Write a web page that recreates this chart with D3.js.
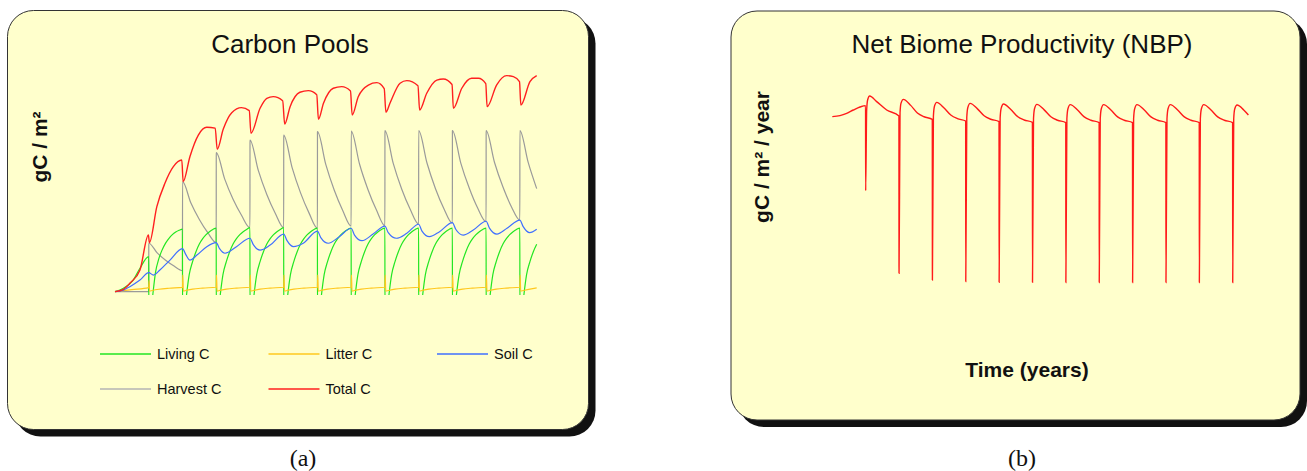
<!DOCTYPE html>
<html>
<head>
<meta charset="utf-8">
<script src="https://cdn.jsdelivr.net/npm/d3@7"></script>
<style>
  body { margin: 0; background: #fff; }
  text { font-family: "Liberation Sans", Arial, sans-serif; fill: #111; }
</style>
</head>
<body>
<svg id="chart" width="1307" height="471"></svg>
<script>
// carbon pools, gC/m2: [year, value]
let livingC = [
  [0, 0], [0.25, 17], [0.54, 58], [0.74, 117], [1.0, 175],
  [1.002, -80], [1.08, -80], [1.12, -17], [1.2, 95], [1.3, 165], [1.4, 210], [1.5, 243], [1.6, 267], [1.7, 285], [1.8, 298], [1.9, 307], [2.0, 313],
  [2.002, -80], [2.08, -80], [2.12, -17], [2.2, 85], [2.3, 150], [2.4, 200], [2.5, 238], [2.6, 265], [2.7, 285], [2.8, 300], [2.9, 311], [3.0, 318],
  [3.002, -80], [3.08, -80], [3.12, -17], [3.2, 85], [3.3, 150], [3.4, 200], [3.5, 238], [3.6, 265], [3.7, 285], [3.8, 300], [3.9, 311], [4.0, 320],
  [4.002, -80], [4.08, -80], [4.12, -17], [4.2, 85], [4.3, 150], [4.4, 200], [4.5, 238], [4.6, 265], [4.7, 285], [4.8, 300], [4.9, 311], [5.0, 320],
  [5.002, -80], [5.08, -80], [5.12, -17], [5.2, 85], [5.3, 150], [5.4, 200], [5.5, 238], [5.6, 265], [5.7, 285], [5.8, 300], [5.9, 311], [6.0, 318],
  [6.002, -80], [6.08, -80], [6.12, -17], [6.2, 85], [6.3, 150], [6.4, 200], [6.5, 238], [6.6, 265], [6.7, 285], [6.8, 300], [6.9, 311], [7.0, 318],
  [7.002, -80], [7.08, -80], [7.12, -17], [7.2, 85], [7.3, 150], [7.4, 200], [7.5, 238], [7.6, 265], [7.7, 285], [7.8, 300], [7.9, 311], [8.0, 318],
  [8.002, -80], [8.08, -80], [8.12, -17], [8.2, 85], [8.3, 150], [8.4, 200], [8.5, 238], [8.6, 265], [8.7, 285], [8.8, 300], [8.9, 311], [9.0, 318],
  [9.002, -80], [9.08, -80], [9.12, -17], [9.2, 85], [9.3, 150], [9.4, 200], [9.5, 238], [9.6, 265], [9.7, 285], [9.8, 300], [9.9, 311], [10.0, 318],
  [10.002, -80], [10.08, -80], [10.12, -17], [10.2, 85], [10.3, 150], [10.4, 200], [10.5, 238], [10.6, 265], [10.7, 285], [10.8, 300], [10.9, 311], [11.0, 318],
  [11.002, -80], [11.08, -80], [11.12, -17], [11.2, 85], [11.3, 150], [11.4, 200], [11.5, 238], [11.6, 265], [11.7, 285], [11.8, 300], [11.9, 311], [12.0, 318],
  [12.002, -80], [12.08, -80], [12.12, -17], [12.2, 85], [12.3, 150], [12.4, 200], [12.5, 237]
];

let litterC = [
  [0, 0], [0.5, 10], [1.0, 20], [1.01, 55], [1.025, 3], [1.1, 6], [1.3, 12], [1.6, 17], [2.0, 21],
  [2.01, 83], [2.025, 3], [2.1, 6], [2.3, 13], [2.6, 18], [3.0, 22],
  [3.01, 83], [3.025, 3], [3.1, 6], [3.3, 13], [3.6, 18], [4.0, 22],
  [4.01, 83], [4.025, 3], [4.1, 6], [4.3, 13], [4.6, 18], [5.0, 22],
  [5.01, 83], [5.025, 3], [5.1, 6], [5.3, 13], [5.6, 18], [6.0, 22],
  [6.01, 83], [6.025, 3], [6.1, 6], [6.3, 13], [6.6, 18], [7.0, 22],
  [7.01, 83], [7.025, 3], [7.1, 6], [7.3, 13], [7.6, 18], [8.0, 22],
  [8.01, 83], [8.025, 3], [8.1, 6], [8.3, 13], [8.6, 18], [9.0, 22],
  [9.01, 83], [9.025, 3], [9.1, 6], [9.3, 13], [9.6, 18], [10.0, 22],
  [10.01, 83], [10.025, 3], [10.1, 6], [10.3, 13], [10.6, 18], [11.0, 22],
  [11.01, 83], [11.025, 3], [11.1, 6], [11.3, 13], [11.6, 18], [12.0, 22],
  [12.01, 83], [12.025, 3], [12.1, 6], [12.3, 13], [12.5, 19]
];

let soilC = [
  [0, 0], [0.25, 8], [0.44, 25], [0.74, 58], [1.0, 95],
  [1.14, 83], [1.33, 108], [1.63, 158], [2.0, 215],
  [2.1, 185], [2.22, 158], [2.43, 183], [2.72, 225], [3.0, 245],
  [3.1, 215], [3.26, 192], [3.6, 225], [4.0, 267],
  [4.1, 235], [4.3, 208], [4.6, 233], [5.0, 288],
  [5.1, 255], [5.29, 225], [5.58, 242], [6.0, 303],
  [6.1, 270], [6.32, 242], [6.65, 275], [7.0, 317],
  [7.1, 283], [7.32, 255], [7.65, 288], [8.0, 328],
  [8.1, 295], [8.34, 267], [8.65, 292], [9.0, 337],
  [9.1, 303], [9.32, 275], [9.62, 300], [10.0, 345],
  [10.1, 312], [10.32, 283], [10.62, 308], [11.0, 352],
  [11.1, 318], [11.32, 288], [11.62, 317], [12.0, 358],
  [12.1, 325], [12.29, 295], [12.5, 312]
];

let harvestC = [
  [0, 0], [1.0, 0], [1.002, 242], [1.25, 194], [1.5, 157], [1.75, 128], [2.0, 105],
  [2.002, 550], [2.25, 443], [2.5, 361], [2.75, 295], [3.0, 245],
  [3.002, 695], [3.25, 564], [3.5, 462], [3.75, 382], [4.0, 320],
  [4.002, 758], [4.25, 605], [4.5, 486], [4.75, 392], [5.0, 320],
  [5.002, 783], [5.25, 620], [5.5, 494], [5.75, 394], [6.0, 317],
  [6.002, 800], [6.25, 635], [6.5, 507], [6.75, 406], [7.0, 328],
  [7.002, 803], [7.25, 637], [7.5, 510], [7.75, 408], [8.0, 330],
  [8.002, 805], [8.25, 640], [8.5, 512], [8.75, 412], [9.0, 338],
  [9.002, 805], [9.25, 642], [9.5, 515], [9.75, 415], [10.0, 342],
  [10.002, 805], [10.25, 643], [10.5, 518], [10.75, 418], [11.0, 350],
  [11.002, 805], [11.25, 646], [11.5, 523], [11.75, 425], [12.0, 358],
  [12.002, 805], [12.25, 645], [12.5, 515]
];

let totalC = [
  [0, 0], [0.25, 12], [0.44, 42], [0.74, 108], [0.99, 283],
  [1.02, 245], [1.24, 425], [1.48, 542], [1.73, 625], [1.98, 658],
  [2.02, 550], [2.22, 675], [2.47, 783], [2.72, 822], [2.97, 818],
  [3.03, 712], [3.21, 813], [3.46, 895], [3.75, 920], [3.98, 905],
  [4.03, 792], [4.3, 917], [4.5, 967], [4.69, 975], [4.97, 955],
  [5.03, 838], [5.19, 925], [5.48, 997], [5.73, 1005], [5.98, 985],
  [6.03, 862], [6.18, 942], [6.47, 1017], [6.72, 1025], [6.98, 1003],
  [7.03, 883], [7.21, 975], [7.51, 1033], [7.76, 1045], [7.98, 1015],
  [8.03, 897], [8.15, 942], [8.45, 1042], [8.65, 1055], [8.98, 1030],
  [9.03, 908], [9.24, 992], [9.54, 1058], [9.73, 1063], [9.99, 1036],
  [10.03, 917], [10.28, 1017], [10.57, 1067], [10.77, 1067], [10.99, 1040],
  [11.03, 925], [11.31, 1033], [11.61, 1080], [11.81, 1075], [11.99, 1050],
  [12.03, 933], [12.3, 1050], [12.5, 1080]
];

// net biome productivity, gC/m2/year
let nbp = [
  [0, 147], [0.23, 155], [0.43, 173], [0.63, 200], [0.83, 224], [0.997, 235],
  [1.0, -445], [1.03, 200], [1.06, 282], [1.12, 312], [1.33, 267], [1.63, 200], [1.997, 152],
  [2.0, -1107], [2.03, 180], [2.06, 255], [2.13, 285], [2.35, 237], [2.55, 176], [2.75, 146], [2.997, 125],
  [3.0, -1160], [3.03, 150], [3.06, 228], [3.13, 261], [3.35, 216], [3.55, 160], [3.75, 131], [3.997, 112],
  [4.0, -1173], [4.03, 140], [4.06, 218], [4.13, 253], [4.35, 209], [4.55, 154], [4.75, 126], [4.997, 107],
  [5.0, -1179], [5.03, 135], [5.06, 213], [5.13, 248], [5.35, 204], [5.55, 148], [5.75, 120], [5.997, 101],
  [6.0, -1179], [6.03, 132], [6.06, 210], [6.13, 245], [6.35, 201], [6.55, 146], [6.75, 118], [6.997, 99],
  [7.0, -1180], [7.03, 130], [7.06, 208], [7.13, 243], [7.35, 200], [7.55, 145], [7.75, 118], [7.997, 99],
  [8.0, -1180], [8.03, 130], [8.06, 208], [8.13, 243], [8.35, 200], [8.55, 145], [8.75, 118], [8.997, 99],
  [9.0, -1180], [9.03, 130], [9.06, 208], [9.13, 243], [9.35, 200], [9.55, 145], [9.75, 118], [9.997, 99],
  [10.0, -1180], [10.03, 130], [10.06, 208], [10.13, 243], [10.35, 200], [10.55, 145], [10.75, 118], [10.997, 99],
  [11.0, -1180], [11.03, 130], [11.06, 208], [11.13, 243], [11.35, 200], [11.55, 145], [11.75, 118], [11.997, 99],
  [12.0, -1181], [12.03, 130], [12.06, 208], [12.13, 240], [12.33, 200], [12.47, 160]
];

let seriesNames = ["Living C", "Litter C", "Soil C", "Harvest C", "Total C"];
let seriesColors = ["#22e622", "#ffc81e", "#3f6fff", "#9a9a9a", "#ff1f1f"];
let seriesData = [livingC, litterC, soilC, harvestC, totalC];
let drawOrder = [3, 0, 1, 2, 4];

let svg = d3.select("#chart");

function panel(x, y, w, h) {
  svg.append("rect")
    .attr("x", x + 7).attr("y", y + 7)
    .attr("width", w).attr("height", h)
    .attr("rx", 26)
    .style("fill", "#111");
  svg.append("rect")
    .attr("x", x).attr("y", y)
    .attr("width", w).attr("height", h)
    .attr("rx", 26)
    .style("fill", "#ffffcc")
    .style("stroke", "#333")
    .style("stroke-width", 1);
}

panel(7.5, 10.5, 581, 419);
panel(731, 11, 569, 409);

// ---- (a) carbon pools
let xL = d3.scaleLinear().domain([0, 12.5]).range([115, 536.7]);
let yL = d3.scaleLinear().domain([0, 1100]).range([291.67, 71.67]);

svg.append("clipPath").attr("id", "clipL")
  .append("rect").attr("x", 100).attr("y", 60).attr("width", 450).attr("height", 235);

let lineL = d3.line()
  .x(d => xL(d[0]))
  .y(d => yL(d[1]))
  .curve(d3.curveMonotoneX);

let plotL = svg.append("g").attr("clip-path", "url(#clipL)");
drawOrder.forEach(i => {
  plotL.append("path")
    .datum(seriesData[i])
    .attr("d", lineL)
    .style("fill", "none")
    .style("stroke", seriesColors[i])
    .style("stroke-width", i == 4 ? 1.4 : 1.2)
    .style("stroke-linejoin", "round");
});

svg.append("text")
  .attr("x", 290).attr("y", 53)
  .style("text-anchor", "middle")
  .style("font-size", "26px")
  .text("Carbon Pools");

svg.append("text")
  .attr("transform", "translate(47,147) rotate(-90)")
  .style("text-anchor", "middle")
  .style("font-size", "21px")
  .style("font-weight", "bold")
  .text("gC / m²");

// legend, 3 per row
let legend = svg.append("g");
seriesNames.forEach((name, i) => {
  let lx = 100 + (i % 3) * 168.5;
  let ly = 354 + Math.floor(i / 3) * 35;
  legend.append("line")
    .attr("x1", lx).attr("x2", lx + 51)
    .attr("y1", ly).attr("y2", ly)
    .style("stroke", i == 3 ? "#b4b4b4" : seriesColors[i])
    .style("stroke-width", 1.5);
  legend.append("text")
    .attr("x", lx + 57).attr("y", ly + 5)
    .style("font-size", "14.5px")
    .text(name);
});

// ---- (b) NBP
let xR = d3.scaleLinear().domain([0, 12.5]).range([832.3, 1249.4]);
let yR = d3.scaleLinear().domain([-1250, 400]).range([291.25, 85]);

svg.append("path")
  .datum(nbp)
  .attr("d", d3.line().x(d => xR(d[0])).y(d => yR(d[1])).curve(d3.curveMonotoneX))
  .style("fill", "none")
  .style("stroke", "#ff1a1a")
  .style("stroke-width", 1.4);

svg.append("text")
  .attr("x", 1022).attr("y", 53)
  .style("text-anchor", "middle")
  .style("font-size", "26px")
  .text("Net Biome Productivity (NBP)");

svg.append("text")
  .attr("transform", "translate(769,157) rotate(-90)")
  .style("text-anchor", "middle")
  .style("font-size", "21px")
  .style("font-weight", "bold")
  .text("gC / m² / year");

svg.append("text")
  .attr("x", 1027).attr("y", 377)
  .style("text-anchor", "middle")
  .style("font-size", "21px")
  .style("font-weight", "bold")
  .text("Time (years)");

// captions
svg.append("text")
  .attr("x", 303).attr("y", 466)
  .style("text-anchor", "middle")
  .style("font-family", "'Liberation Serif', 'DejaVu Serif', serif")
  .style("font-size", "24px")
  .text("(a)");

svg.append("text")
  .attr("x", 1022).attr("y", 466)
  .style("text-anchor", "middle")
  .style("font-family", "'Liberation Serif', 'DejaVu Serif', serif")
  .style("font-size", "24px")
  .text("(b)");
</script>
</body>
</html>
